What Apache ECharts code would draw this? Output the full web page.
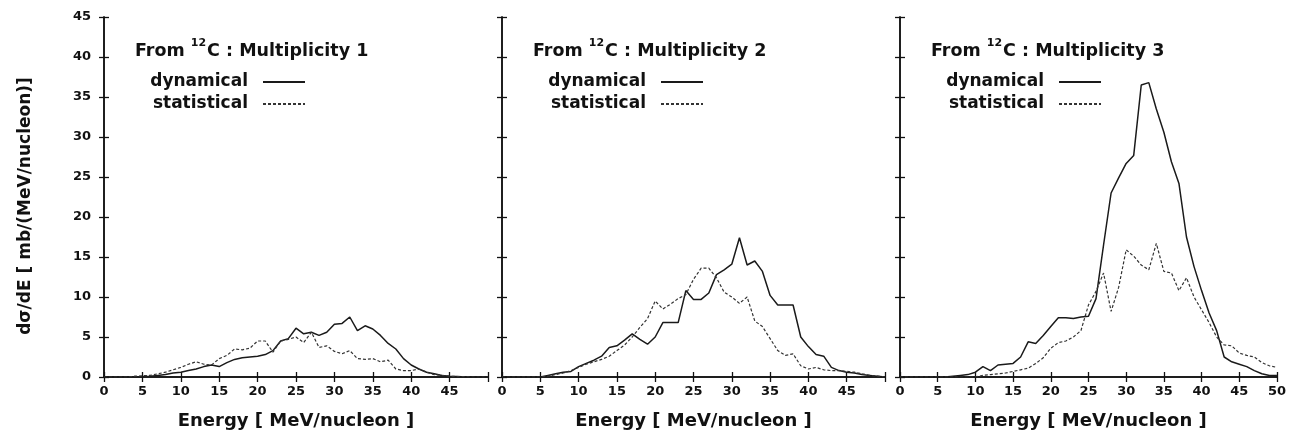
<!DOCTYPE html>
<html>
<head>
<meta charset="utf-8">
<script src="https://cdn.jsdelivr.net/npm/echarts@6/dist/echarts.min.js"></script>
<style>
html,body{margin:0;padding:0;background:#fff;}
#c{width:1289px;height:435px;}
</style>
</head>
<body>
<div id="c"></div>
<script>
const energy = [0,1,2,3,4,5,6,7,8,9,10,11,12,13,14,15,16,17,18,19,20,21,22,23,24,25,26,27,28,29,30,31,32,33,34,35,36,37,38,39,40,41,42,43,44,45,46,47,48,49,50];

const dyn1 = [0,0,0,0,0,0.05,0.1,0.2,0.3,0.5,0.6,0.8,1.0,1.3,1.5,1.3,1.8,2.2,2.4,2.5,2.6,2.8,3.3,4.5,4.8,6.1,5.4,5.6,5.2,5.6,6.6,6.7,7.5,5.8,6.4,6.0,5.2,4.2,3.5,2.3,1.5,1.0,0.6,0.4,0.2,0.1,0.05,0,0,0,0];
const stat1 = [0,0,0,0,0.1,0.15,0.2,0.4,0.6,0.9,1.2,1.6,1.9,1.6,1.5,2.3,2.7,3.5,3.4,3.6,4.5,4.5,3.1,4.5,4.7,5.0,4.3,5.6,3.7,3.9,3.2,2.9,3.3,2.3,2.2,2.3,1.9,2.1,1.0,0.8,0.8,1.0,0.6,0.3,0.2,0.1,0.05,0.05,0,0,0];

const dyn2 = [0,0,0,0,0,0,0.2,0.4,0.6,0.7,1.3,1.7,2.1,2.6,3.7,3.9,4.6,5.4,4.7,4.1,5.0,6.8,6.8,6.8,10.8,9.7,9.7,10.5,12.8,13.4,14.1,17.4,14.0,14.5,13.2,10.2,9.0,9.0,9.0,5.0,3.8,2.8,2.6,1.2,0.8,0.6,0.5,0.3,0.2,0.1,0];
const stat2 = [0,0,0,0,0,0,0.1,0.3,0.5,0.8,1.2,1.6,1.9,2.2,2.6,3.3,4.0,5.0,6.2,7.3,9.5,8.5,9.1,9.8,10.3,12.2,13.6,13.6,12.4,10.6,10.0,9.2,10.0,7.0,6.3,4.8,3.3,2.7,2.9,1.4,1.0,1.2,0.9,0.8,0.8,0.7,0.6,0.4,0.2,0.1,0];

const dyn3 = [0,0,0,0,0,0,0,0.1,0.2,0.3,0.6,1.3,0.8,1.5,1.6,1.7,2.5,4.4,4.2,5.2,6.3,7.4,7.4,7.3,7.5,7.6,9.8,16.5,23.0,24.9,26.7,27.7,36.5,36.8,33.5,30.6,26.9,24.2,17.5,13.8,10.8,8.0,5.8,2.5,1.9,1.6,1.3,0.8,0.4,0.2,0.2];
const stat3 = [0,0,0,0,0,0,0,0,0,0,0,0.2,0.3,0.4,0.5,0.7,0.9,1.1,1.7,2.4,3.6,4.3,4.5,5.0,5.8,9.0,10.7,13.0,8.2,11.2,15.9,15.1,14.0,13.4,16.7,13.2,13.0,10.8,12.4,10.0,8.4,6.8,5.0,4.0,3.9,3.0,2.7,2.5,1.8,1.4,1.2];

const panelTitles = ['Multiplicity 1','Multiplicity 2','Multiplicity 3'];
const xTickLabels = ['0','5','10','15','20','25','30','35','40','45','50'];
const seriesNames = ['dynamical','statistical'];

const FONT = 'DejaVu Sans';
const grids = [
  {left:104, top:17, width:384, height:363},
  {left:502, top:17, width:383, height:363},
  {left:900, top:17, width:382, height:363}
];
const panels = [[dyn1, stat1],[dyn2, stat2],[dyn3, stat3]];

const pair = arr => energy.map((e,i)=>[e, arr[i]]);
const axisLine = {show:true, lineStyle:{color:'#111', width:1.5}};
const tick = {show:true, inside:true, length:5, lineStyle:{color:'#111', width:1.3}};

const xAxis = [], yAxis = [], series = [], title = [], legend = [];
grids.forEach((g, p) => {
  xAxis.push({
    type:'value', gridIndex:p, min:0, max:50, interval:5, position:'bottom',
    axisLine, axisTick:tick, splitLine:{show:false},
    axisLabel:{show:true, margin:8, color:'#111', fontFamily:FONT, fontWeight:'bold', fontSize:13,
      formatter: v => (p < 2 && v === 50) ? '' : xTickLabels[Math.round(v/5)]},
    name:'Energy [ MeV/nucleon ]', nameLocation:'middle', nameGap:35,
    nameTextStyle:{color:'#111', fontFamily:FONT, fontWeight:'bold', fontSize:18}
  });
  xAxis.push({
    type:'value', gridIndex:p, min:0, max:50, interval:5, position:'top',
    axisLine, axisTick:tick, axisLabel:{show:false}, splitLine:{show:false}
  });
  const ya = {
    type:'value', gridIndex:p, min:0, max:45, interval:5, position:'left',
    axisLine, axisTick:tick, splitLine:{show:false},
    axisLabel:{show:p===0, margin:13, color:'#111', fontFamily:FONT, fontWeight:'bold', fontSize:13}
  };
  if (p === 0) {
    ya.name = 'dσ/dE [ mb/(MeV/nucleon)]';
    ya.nameLocation = 'middle';
    ya.nameGap = 70;
    ya.nameTextStyle = {color:'#111', fontFamily:FONT, fontWeight:'bold', fontSize:17, padding:[0,18,0,0]};
  }
  yAxis.push(ya);
  yAxis.push({
    type:'value', gridIndex:p, min:0, max:45, interval:5, position:'right',
    axisLine, axisTick:tick, axisLabel:{show:false}, splitLine:{show:false}
  });
  const [d, s] = panels[p];
  series.push({
    name:seriesNames[0], type:'line', xAxisIndex:2*p, yAxisIndex:2*p, symbol:'none',
    lineStyle:{color:'#1a1a1a', width:1.5, type:'solid'}, itemStyle:{color:'#1a1a1a'},
    data:pair(d), animation:false
  });
  series.push({
    name:seriesNames[1], type:'line', xAxisIndex:2*p, yAxisIndex:2*p, symbol:'none',
    lineStyle:{color:'#333', width:1.2, type:[3,2]}, itemStyle:{color:'#333'},
    data:pair(s), animation:false
  });
  title.push({
    left:g.left + 31, top:38, padding:0,
    text:'{a|From }{s|12}{a|C : ' + panelTitles[p] + '}',
    textStyle:{
      rich:{
        a:{fontFamily:FONT, fontWeight:'bold', fontSize:17.5, color:'#111', lineHeight:22, verticalAlign:'bottom'},
        s:{fontFamily:FONT, fontWeight:'bold', fontSize:11, color:'#111', lineHeight:22, verticalAlign:'top', padding:[0,1,0,0]}
      }
    }
  });
  legend.push({
    data:seriesNames, orient:'vertical', align:'right',
    left:g.left + 159 - 125, top:73, padding:0,
    itemWidth:42, itemHeight:14, itemGap:4,
    itemStyle:{color:'rgba(0,0,0,0)', borderWidth:0, opacity:0},
    textStyle:{fontFamily:FONT, fontWeight:'bold', fontSize:17, color:'#111', width:110, align:'right', padding:[0,10,0,0], lineHeight:18},
    selectedMode:false
  });
});

const chart = echarts.init(document.getElementById('c'), null, {renderer:'canvas'});
chart.setOption({
  backgroundColor:'#fff',
  animation:false,
  title, legend,
  grid: grids.map(g => Object.assign({containLabel:false}, g)),
  xAxis, yAxis, series
});
</script>
</body>
</html>
